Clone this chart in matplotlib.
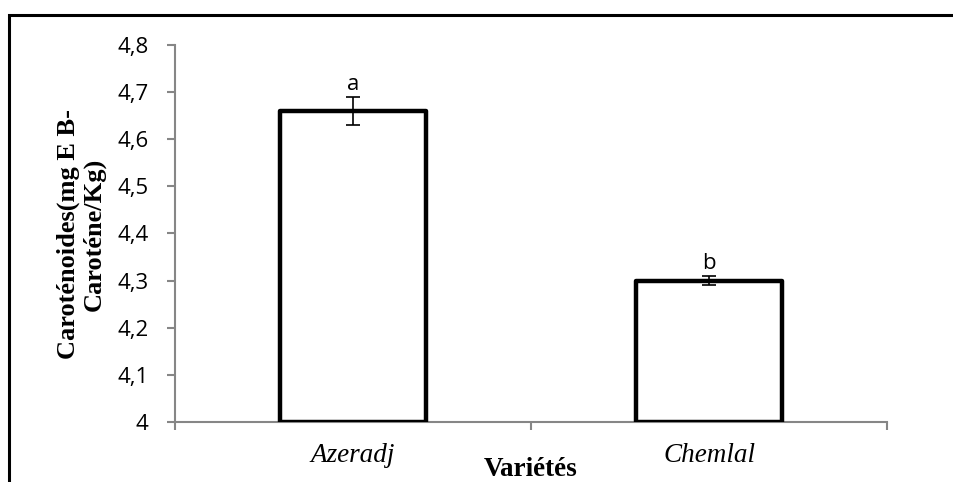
import matplotlib.pyplot as plt
from matplotlib.patches import Rectangle

# Data
varietes = ['Azeradj', 'Chemlal']
carotenoides = [4.66, 4.30]
erreurs = [0.03, 0.01]
lettres = ['a', 'b']
yticks = [4.0, 4.1, 4.2, 4.3, 4.4, 4.5, 4.6, 4.7, 4.8]
ytick_labels = ['4', '4,1', '4,2', '4,3', '4,4', '4,5', '4,6', '4,7', '4,8']

fig = plt.figure(figsize=(9.54, 4.82), dpi=100)
ax = fig.add_axes([175 / 954, 1 - 422 / 482, 712 / 954, 377 / 482])

grey = '#868686'
x = list(range(len(varietes)))
bars = ax.bar(x, [v - 4 for v in carotenoides], bottom=4, width=0.41,
              color='white', edgecolor='black', linewidth=3.2, zorder=3)
for b in bars:
    b.set_joinstyle('round')  # slightly rounded corners like the original
ax.errorbar(x, carotenoides, yerr=erreurs, fmt='none', ecolor='black',
            elinewidth=1.2, capsize=5, capthick=1.2, zorder=4)
for xi, v, e, l in zip(x, carotenoides, erreurs, lettres):
    ax.text(xi, v + e + 0.004, l, ha='center', va='bottom',
            fontsize=16, family='Open Sans')

ax.set_xlim(-0.5, 1.5)
ax.set_ylim(4.0, 4.8)
ax.set_yticks(yticks)
ax.set_yticklabels(ytick_labels, family='Open Sans', fontsize=16)
ax.set_xticks([-0.5, 0.5, 1.5])
ax.set_xticklabels([])
ax.set_xticks(x, minor=True)
ax.set_xticklabels(varietes, minor=True, family='Liberation Serif',
                   style='italic', fontsize=19.5)
ax.tick_params(axis='x', which='minor', length=0, pad=15)
ax.tick_params(axis='x', which='major', length=5.5, width=1.5, color=grey)
ax.tick_params(axis='y', length=5.5, width=1.5, color=grey, pad=13.5)

for s in ['top', 'right']:
    ax.spines[s].set_visible(False)
for s in ['left', 'bottom']:
    ax.spines[s].set_color(grey)
    ax.spines[s].set_linewidth(1.5)

fig.text(531 / 954, 1 - 470 / 482, 'Variétés', ha='center', va='center',
         family='Liberation Serif', weight='bold', fontsize=19.5)
fig.text(81 / 954, 1 - 234 / 482, 'Caroténoides(mg E B-\nCaroténe/Kg)',
         rotation=90, ha='center', va='center', multialignment='center',
         family='Liberation Serif', weight='bold', fontsize=19,
         linespacing=1.15)

# outer frame
fig.patches.append(Rectangle((9 / 954, -0.05), 1.0, 1 - 15 / 482 + 0.05,
                             transform=fig.transFigure, fill=False,
                             edgecolor='black', linewidth=2.2))

fig.savefig('out.png', dpi=100)
